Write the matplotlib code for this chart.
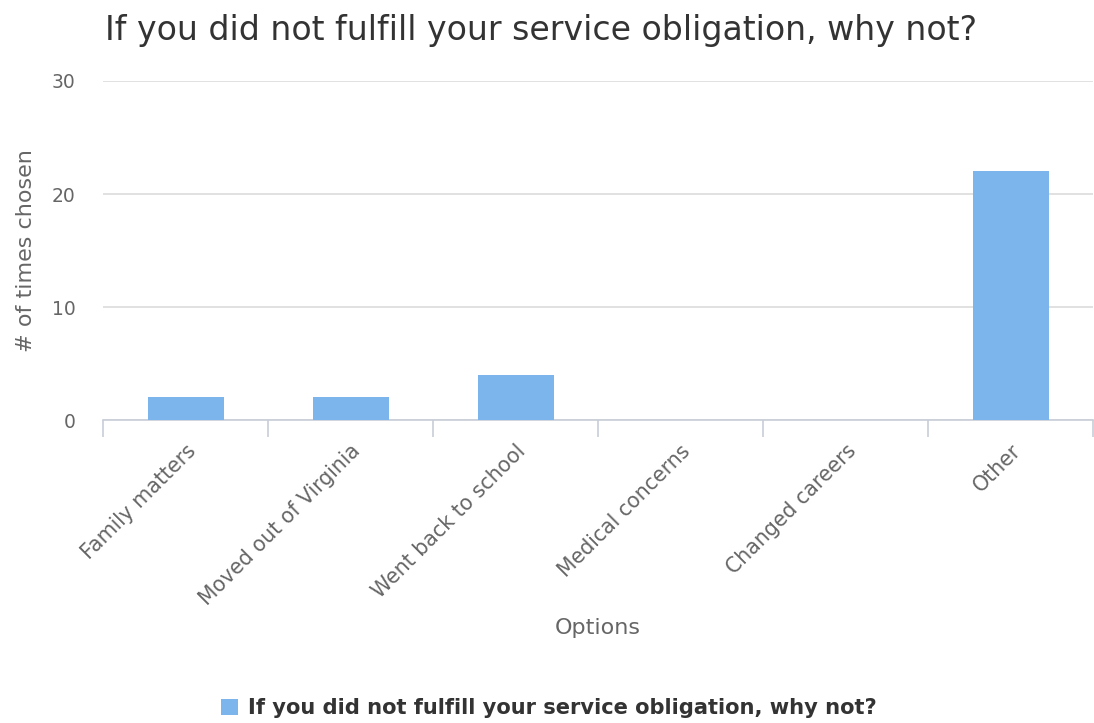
import matplotlib
matplotlib.use("Agg")
from matplotlib import pyplot as plt

categories = ["Family matters", "Moved out of Virginia", "Went back to school",
              "Medical concerns", "Changed careers", "Other"]
counts = [2, 2, 4, 0, 0, 22]
series_name = "If you did not fulfill your service obligation, why not?"
y_ticks = [0, 10, 20, 30]

plt.rcParams["font.family"] = ["DejaVu Sans"]

fig = plt.figure(figsize=(10.94, 7.23), dpi=100)
ax = fig.add_axes([0.0942, 0.419, 0.905, 0.469])

x = list(range(len(categories)))
ax.bar(x, counts, width=0.46, color="#7cb5ec", label=series_name, zorder=3)

ax.set_xlim(-0.5, len(categories) - 0.5)
ax.set_ylim(0, 30)
ax.set_yticks(y_ticks)
ax.yaxis.grid(True, color="#dcdcdc", linewidth=1.2, zorder=0)

for side in ("top", "right", "left"):
    ax.spines[side].set_visible(False)
ax.spines["bottom"].set_color("#c8ced8")
ax.spines["bottom"].set_linewidth(1.2)

# category ticks sit on the boundaries, labels on the centres
ax.set_xticks([i - 0.5 for i in range(len(categories) + 1)], minor=False)
ax.set_xticklabels([])
ax.tick_params(axis="x", which="major", length=12, color="#c8ced8", width=1.2)
ax.set_xticks(x, minor=True)
ax.set_xticklabels(categories, minor=True, rotation=45, ha="right",
                   rotation_mode="anchor", fontsize=14.8, color="#666666")
ax.tick_params(axis="x", which="minor", length=0, pad=15)
ax.tick_params(axis="y", length=0, pad=20, labelsize=13.5, labelcolor="#666666")

ax.set_xlabel("Options", fontsize=16, color="#666666")
ax.xaxis.set_label_coords(0.5, -0.585)
ax.set_ylabel("# of times chosen", fontsize=16, color="#666666")
ax.yaxis.set_label_coords(-0.068, 0.5)

fig.text(0.096, 0.958, series_name, fontsize=23.9, color="#333333",
         ha="left", va="center")

fig.legend(loc="center", bbox_to_anchor=(0.502, 0.021), frameon=False,
           handlelength=0.8, handleheight=0.8, handletextpad=0.5,
           prop={"weight": "bold", "size": 15.1}, labelcolor="#333333")

fig.savefig("out.png", dpi=100)
